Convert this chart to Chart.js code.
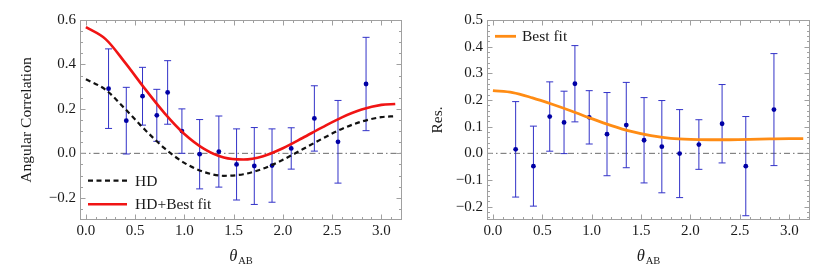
<!DOCTYPE html>
<html>
<head>
<meta charset="utf-8">
<script src="https://cdn.jsdelivr.net/npm/chart.js@4.4.0/dist/chart.umd.min.js"></script>
<style>
html, body { margin: 0; padding: 0; background: #fff; }
#wrap { display: flex; width: 830px; height: 277px; }
canvas { display: block; }
</style>
</head>
<body>
<div id="wrap">
  <canvas id="left" width="415" height="277"></canvas>
  <canvas id="right" width="415" height="277"></canvas>
</div>
<script>
// measured points (theta in rad)
var theta = [0.23, 0.41, 0.575, 0.72, 0.83, 0.975, 1.155, 1.35, 1.53, 1.71, 1.89, 2.085, 2.32, 2.56, 2.845];
var corr = [0.291, 0.147, 0.257, 0.171, 0.274, 0.100, -0.004, 0.008, -0.050, -0.057, -0.055, 0.022, 0.157, 0.052, 0.312];
var corrErr = [0.179, 0.150, 0.130, 0.117, 0.143, 0.100, 0.156, 0.160, 0.160, 0.173, 0.165, 0.093, 0.147, 0.186, 0.210];
var resid = [0.015, -0.048, 0.138, 0.116, 0.261, 0.135, 0.072, 0.106, 0.049, 0.025, -0.001, 0.033, 0.111, -0.048, 0.164];

// curves
var curveTheta = [0, 0.2, 0.4, 0.6, 0.8, 1.0, 1.2, 1.4, 1.6, 1.8, 2.0, 2.2, 2.4, 2.6, 2.8, 3.0, 3.1416];
var hdCurve = [0.333, 0.286, 0.199, 0.106, 0.022, -0.043, -0.084, -0.101, -0.094, -0.069, -0.029, 0.018, 0.066, 0.110, 0.143, 0.163, 0.167];
var hdFitCurve = [0.568, 0.514, 0.407, 0.290, 0.180, 0.087, 0.020, -0.019, -0.028, -0.013, 0.023, 0.069, 0.117, 0.162, 0.197, 0.218, 0.222];
var fitCurve = [0.235, 0.228, 0.208, 0.184, 0.158, 0.130, 0.104, 0.082, 0.066, 0.056, 0.052, 0.051, 0.051, 0.052, 0.054, 0.055, 0.055];

var xTicks = [0, 0.5, 1.0, 1.5, 2.0, 2.5, 3.0];
var yTicksLeft = [-0.2, 0, 0.2, 0.4, 0.6];
var yTicksRight = [-0.2, -0.1, 0, 0.1, 0.2, 0.3, 0.4, 0.5];

var FONT = '"Liberation Serif", "DejaVu Serif", serif';

function pts(xs, ys) {
  return xs.map(function (x, i) { return { x: x, y: ys[i] }; });
}
function fmt(v) {
  return v < 0 ? '\u2212' + Math.abs(v).toFixed(1) : v.toFixed(1);
}

// frame, inward ticks, zero line, error bars, legend and axis titles
var framePlugin = {
  id: 'frame',
  beforeDatasetsDraw: function (chart) {
    var ctx = chart.ctx, a = chart.chartArea, xs = chart.scales.x, ys = chart.scales.y;
    ctx.save();
    var y0 = ys.getPixelForValue(0);
    ctx.strokeStyle = '#6a6a6a';
    ctx.lineWidth = 1;
    ctx.setLineDash([6, 3, 1.5, 3]);
    ctx.beginPath();
    ctx.moveTo(a.left, y0);
    ctx.lineTo(a.right, y0);
    ctx.stroke();
    ctx.setLineDash([]);
    chart.data.datasets.forEach(function (ds) {
      if (!ds.errorBars) return;
      ctx.strokeStyle = 'rgb(50,50,200)';
      ds.data.forEach(function (p, i) {
        var x = xs.getPixelForValue(p.x);
        var t = ys.getPixelForValue(p.y + ds.errorBars[i]);
        var b = ys.getPixelForValue(p.y - ds.errorBars[i]);
        ctx.beginPath();
        ctx.moveTo(x, t); ctx.lineTo(x, b);
        ctx.moveTo(x - 3.5, t); ctx.lineTo(x + 3.5, t);
        ctx.moveTo(x - 3.5, b); ctx.lineTo(x + 3.5, b);
        ctx.stroke();
      });
    });
    ctx.restore();
  },
  afterDraw: function (chart, args, opts) {
    var ctx = chart.ctx, a = chart.chartArea, xs = chart.scales.x, ys = chart.scales.y;
    ctx.save();
    ctx.strokeStyle = '#a0a0a0';
    ctx.lineWidth = 1;
    var L = Math.round(a.left) + 0.5, R = Math.round(a.right) - 0.5;
    var T = Math.round(a.top) + 0.5, B = Math.round(a.bottom) - 0.5;
    ctx.strokeRect(L, T, R - L, B - T);

    function near(list, v) {
      return list.some(function (m) { return Math.abs(m - v) < 1e-6; });
    }
    ctx.beginPath();
    // x ticks (bottom and top)
    for (var v = Math.ceil(xs.min / opts.xMinor) * opts.xMinor; v <= xs.max; v += opts.xMinor) {
      var vv = Math.round(v * 1000) / 1000;
      var len = near(xTicks, vv) ? 5 : 2.5;
      var px = Math.round(xs.getPixelForValue(vv)) + 0.5;
      ctx.moveTo(px, B); ctx.lineTo(px, B - len);
      ctx.moveTo(px, T); ctx.lineTo(px, T + len);
    }
    // y ticks (left and right)
    for (var w = Math.ceil(ys.min / opts.yMinor) * opts.yMinor; w <= ys.max + 1e-9; w += opts.yMinor) {
      var ww = Math.round(w * 1000) / 1000;
      var len2 = near(opts.yMajor, ww) ? 5 : 2.5;
      var py = Math.round(ys.getPixelForValue(ww)) + 0.5;
      ctx.moveTo(L, py); ctx.lineTo(L + len2, py);
      ctx.moveTo(R, py); ctx.lineTo(R - len2, py);
    }
    ctx.stroke();

    // legend inside the frame
    var lg = opts.legend;
    ctx.font = lg.size + 'px ' + FONT;
    ctx.textBaseline = 'middle';
    ctx.textAlign = 'left';
    lg.items.forEach(function (idx, k) {
      var ds = chart.data.datasets[idx];
      var y = a.top + lg.ys[k];
      ctx.strokeStyle = ds.borderColor;
      ctx.lineWidth = ds.borderWidth;
      ctx.setLineDash(ds.borderDash || []);
      ctx.beginPath();
      ctx.moveTo(a.left + lg.x0, y);
      ctx.lineTo(a.left + lg.x0 + lg.len, y);
      ctx.stroke();
      ctx.setLineDash([]);
      ctx.fillStyle = '#1a1a1a';
      ctx.fillText(ds.label, a.left + lg.textX, y + 1);
    });

    // y title
    ctx.fillStyle = '#1a1a1a';
    ctx.font = opts.titleSize + 'px ' + FONT;
    ctx.save();
    ctx.translate(opts.yTitleX, (a.top + a.bottom) / 2);
    ctx.rotate(-Math.PI / 2);
    ctx.textAlign = 'center';
    ctx.textBaseline = 'middle';
    ctx.fillText(opts.yTitle, 0, 0);
    ctx.restore();

    // x title: theta with subscript AB
    ctx.textBaseline = 'alphabetic';
    ctx.textAlign = 'left';
    var mainFont = 'italic ' + (opts.titleSize + 1) + 'px ' + FONT;
    var subFont = (opts.titleSize - 5) + 'px ' + FONT;
    ctx.font = mainFont;
    var w1 = ctx.measureText('\u03b8').width;
    ctx.font = subFont;
    var w2 = ctx.measureText('AB').width;
    var x0 = (a.left + a.right) / 2 - (w1 + w2 + 1) / 2;
    ctx.font = mainFont;
    ctx.fillText('\u03b8', x0, opts.xTitleY);
    ctx.font = subFont;
    ctx.fillText('AB', x0 + w1 + 1, opts.xTitleY + 3);
    ctx.restore();
  }
};

function makeScales(yMin, yMax, yTicks, yWidth) {
  var tickFont = { family: FONT, size: 15 };
  return {
    x: {
      type: 'linear', min: -0.06, max: 3.21,
      grid: { display: false, drawTicks: false },
      border: { display: false },
      afterBuildTicks: function (s) { s.ticks = xTicks.map(function (v) { return { value: v }; }); },
      afterFit: function (s) { s.height = 57; },
      ticks: { padding: 2, font: tickFont, color: '#1a1a1a', maxRotation: 0, autoSkip: false,
        callback: function (v) { return fmt(v); } }
    },
    y: {
      type: 'linear', min: yMin, max: yMax,
      grid: { display: false, drawTicks: false },
      border: { display: false },
      afterBuildTicks: function (s) { s.ticks = yTicks.map(function (v) { return { value: v }; }); },
      afterFit: function (s) { s.width = yWidth; },
      ticks: { padding: 4, font: tickFont, color: '#1a1a1a', autoSkip: false,
        callback: function (v) { return fmt(v); } }
    }
  };
}

var pointStyle = {
  showLine: false, pointRadius: 2.4, pointHoverRadius: 2.4,
  pointBackgroundColor: 'rgb(0,0,165)', pointBorderWidth: 0, borderColor: 'rgb(0,0,165)'
};

new Chart(document.getElementById('left').getContext('2d'), {
  type: 'scatter',
  data: {
    datasets: [
      { label: 'HD+Best fit', data: pts(curveTheta, hdFitCurve), showLine: true, pointRadius: 0,
        borderColor: 'rgb(240,20,20)', borderWidth: 2.6, cubicInterpolationMode: 'monotone' },
      { label: 'HD', data: pts(curveTheta, hdCurve), showLine: true, pointRadius: 0,
        borderColor: '#111', borderWidth: 2.2, borderDash: [5, 3.5], cubicInterpolationMode: 'monotone' },
      Object.assign({ label: 'data', data: pts(theta, corr), errorBars: corrErr }, pointStyle)
    ]
  },
  options: {
    responsive: false, animation: false, devicePixelRatio: 1,
    layout: { padding: { left: 0, right: 13, top: 20, bottom: 0 } },
    plugins: {
      legend: { display: false }, tooltip: { enabled: false },
      frame: {
        xMinor: 0.1, yMinor: 0.05, yMajor: yTicksLeft,
        yTitle: 'Angular Correlation', yTitleX: 27, xTitleY: 261, titleSize: 15.5,
        legend: { size: 15.5, x0: 8, len: 39, textX: 55, ys: [160.7, 184.3], items: [1, 0] }
      }
    },
    scales: makeScales(-0.3, 0.6, yTicksLeft, 80)
  },
  plugins: [framePlugin]
});

new Chart(document.getElementById('right').getContext('2d'), {
  type: 'scatter',
  data: {
    datasets: [
      { label: 'Best fit', data: pts(curveTheta, fitCurve), showLine: true, pointRadius: 0,
        borderColor: 'rgb(255,140,20)', borderWidth: 2.8, cubicInterpolationMode: 'monotone' },
      Object.assign({ label: 'res', data: pts(theta, resid), errorBars: corrErr }, pointStyle)
    ]
  },
  options: {
    responsive: false, animation: false, devicePixelRatio: 1,
    layout: { padding: { left: 0, right: 20, top: 20, bottom: 0 } },
    plugins: {
      legend: { display: false }, tooltip: { enabled: false },
      frame: {
        xMinor: 0.1, yMinor: 0.02, yMajor: yTicksRight,
        yTitle: 'Res.', yTitleX: 23, xTitleY: 261, titleSize: 15.5,
        legend: { size: 15.5, x0: 8, len: 21, textX: 35, ys: [16.3], items: [0] }
      }
    },
    scales: makeScales(-0.25, 0.5, yTicksRight, 72)
  },
  plugins: [framePlugin]
});
</script>
</body>
</html>
